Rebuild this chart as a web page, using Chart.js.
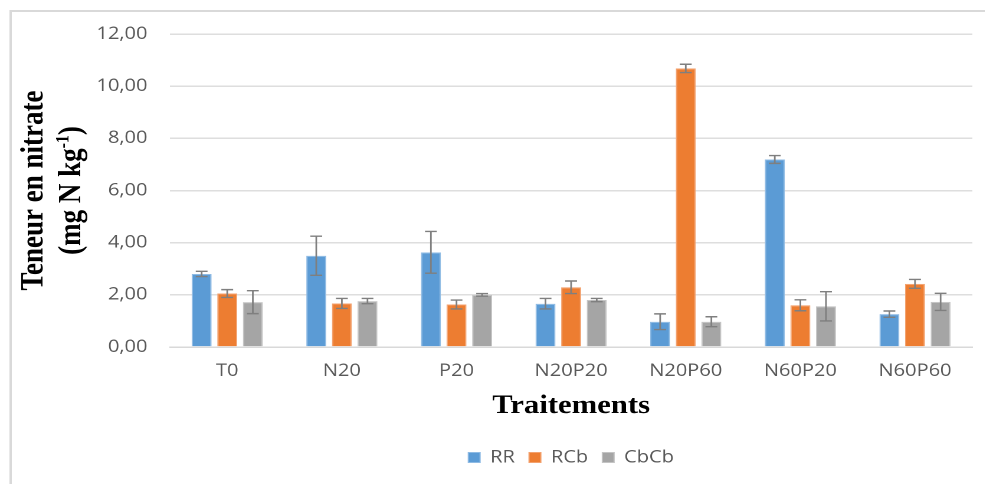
<!DOCTYPE html>
<html>
<head>
<meta charset="utf-8">
<script src="https://cdn.jsdelivr.net/npm/chart.js@4.4.1/dist/chart.umd.min.js"></script>
<style>
  html, body { margin: 0; padding: 0; background: #ffffff; overflow: hidden; }
  #wrap { position: absolute; left: 0; top: 0; width: 835px; height: 484px;
          transform: scaleX(1.18); transform-origin: 0 0; }
  canvas { display: block; }
</style>
</head>
<body>
<div id="wrap"><canvas id="chart" width="835" height="484"></canvas></div>
<script>
// Traitements
const categories = ['T0', 'N20', 'P20', 'N20P20', 'N20P60', 'N60P20', 'N60P60'];

// Teneur en nitrate (mg N kg-1), moyennes
const valuesRR   = [2.80, 3.50, 3.63, 1.66, 0.97, 7.19, 1.26];
const valuesRCb  = [2.05, 1.67, 1.63, 2.29, 10.68, 1.60, 2.42];
const valuesCbCb = [1.72, 1.76, 2.00, 1.80, 0.97, 1.56, 1.73];

// Écarts-types
const errRR   = [0.10, 0.75, 0.80, 0.20, 0.30, 0.15, 0.12];
const errRCb  = [0.15, 0.19, 0.17, 0.24, 0.16, 0.21, 0.17];
const errCbCb = [0.44, 0.10, 0.05, 0.06, 0.19, 0.56, 0.33];

// Axe Y
const yTicks = [0, 2, 4, 6, 8, 10, 12];

const seriesNames = ['RR', 'RCb', 'CbCb'];
const seriesColors = ['#5b9bd5', '#ed7d31', '#a5a5a5'];
const seriesEdges = ['#8fbbe4', '#f3a26f', '#c4c4c4'];

const TICK_COLOR = '#595959';
const SANS = '"Open Sans", "DejaVu Sans", sans-serif';
const SERIF = '"Liberation Serif", "Times New Roman", serif';

// White background and the frame lines (left and top)
const frame = {
  id: 'frame',
  beforeDraw(chart) {
    const ctx = chart.ctx;
    ctx.save();
    ctx.fillStyle = '#ffffff';
    ctx.fillRect(0, 0, chart.width, chart.height);
    ctx.strokeStyle = '#d9d9d9';
    ctx.lineWidth = 2;
    ctx.beginPath();
    ctx.moveTo(9, chart.height);
    ctx.lineTo(9, 11);
    ctx.lineTo(chart.width, 11);
    ctx.stroke();
    ctx.restore();
  }
};

// Standard-deviation whiskers on every bar
const errorBars = {
  id: 'errorBars',
  afterDatasetsDraw(chart) {
    const ctx = chart.ctx;
    const yScale = chart.scales.y;
    ctx.save();
    ctx.strokeStyle = '#7f7f7f';
    ctx.lineWidth = 1.4;
    chart.data.datasets.forEach((ds, di) => {
      const meta = chart.getDatasetMeta(di);
      meta.data.forEach((bar, i) => {
        const v = ds.data[i];
        const e = ds.errors[i];
        const x = bar.x;
        const yHi = yScale.getPixelForValue(v + e);
        const yLo = yScale.getPixelForValue(v - e);
        const half = 5;
        ctx.beginPath();
        ctx.moveTo(x, yHi); ctx.lineTo(x, yLo);
        ctx.moveTo(x - half, yHi); ctx.lineTo(x + half, yHi);
        ctx.moveTo(x - half, yLo); ctx.lineTo(x + half, yLo);
        ctx.stroke();
      });
    });
    ctx.restore();
  }
};

// Two-line vertical axis title with a superscript exponent
const yTitle = {
  id: 'yTitle',
  afterDraw(chart) {
    const ctx = chart.ctx;
    const area = chart.chartArea;
    const cy = (area.top + area.bottom) / 2;
    ctx.save();
    ctx.fillStyle = '#000000';
    ctx.textBaseline = 'alphabetic';
    const big = 'bold 27px ' + SERIF;
    const small = 'bold 16px ' + SERIF;

    // first line
    ctx.save();
    ctx.translate(36, cy);
    ctx.rotate(-Math.PI / 2);
    ctx.font = big;
    ctx.textAlign = 'center';
    ctx.fillText('Teneur en nitrate', 0, 0);
    ctx.restore();

    // second line: (mg N kg-1)
    const partA = '(mg N kg';
    const sup = '-1';
    const partB = ')';
    ctx.font = big;
    const wA = ctx.measureText(partA).width;
    const wB = ctx.measureText(partB).width;
    ctx.font = small;
    const wS = ctx.measureText(sup).width;
    const total = wA + wS + wB;
    ctx.save();
    ctx.translate(68, cy);
    ctx.rotate(-Math.PI / 2);
    ctx.textAlign = 'left';
    let x = -total / 2;
    ctx.font = big;
    ctx.fillText(partA, x, 0);
    x += wA;
    ctx.font = small;
    ctx.fillText(sup, x, -10);
    x += wS;
    ctx.font = big;
    ctx.fillText(partB, x, 0);
    ctx.restore();
    ctx.restore();
  }
};

const errorSets = [errRR, errRCb, errCbCb];
const valueSets = [valuesRR, valuesRCb, valuesCbCb];

new Chart(document.getElementById('chart'), {
  type: 'bar',
  data: {
    labels: categories,
    datasets: seriesNames.map((name, k) => ({
      label: name,
      data: valueSets[k],
      errors: errorSets[k],
      backgroundColor: seriesColors[k],
      borderColor: seriesEdges[k],
      borderWidth: 1,
      categoryPercentage: 0.67,
      barPercentage: 0.78
    }))
  },
  options: {
    responsive: false,
    animation: false,
    devicePixelRatio: 2,
    layout: { padding: { top: 34, right: 11, bottom: 8, left: 0 } },
    plugins: {
      legend: {
        position: 'bottom',
        fullSize: false,
        labels: {
          boxWidth: 10,
          boxHeight: 10,
          padding: 12,
          color: TICK_COLOR,
          font: { family: SANS, size: 17 }
        }
      },
      tooltip: { enabled: false }
    },
    scales: {
      x: {
        afterFit(scale) { scale.height = 90; },
        grid: { display: false, drawTicks: false },
        border: { display: true, color: '#d9d9d9', width: 1.5 },
        ticks: { color: TICK_COLOR, padding: 14, font: { family: SANS, size: 17 } },
        title: {
          display: true,
          text: 'Traitements',
          color: '#000000',
          font: { family: SERIF, size: 26, weight: 'bold' },
          padding: { top: 10, bottom: 15 }
        }
      },
      y: {
        min: 0,
        max: 12,
        afterFit(scale) { scale.width = 144; },
        afterBuildTicks(scale) { scale.ticks = yTicks.map(v => ({ value: v })); },
        grid: { color: '#dedede', lineWidth: 1.5, drawTicks: false },
        border: { display: false },
        ticks: {
          color: TICK_COLOR,
          padding: 19,
          font: { family: SANS, size: 17 },
          callback: v => v.toFixed(2).replace('.', ',')
        }
      }
    }
  },
  plugins: [frame, errorBars, yTitle]
});
</script>
</body>
</html>
